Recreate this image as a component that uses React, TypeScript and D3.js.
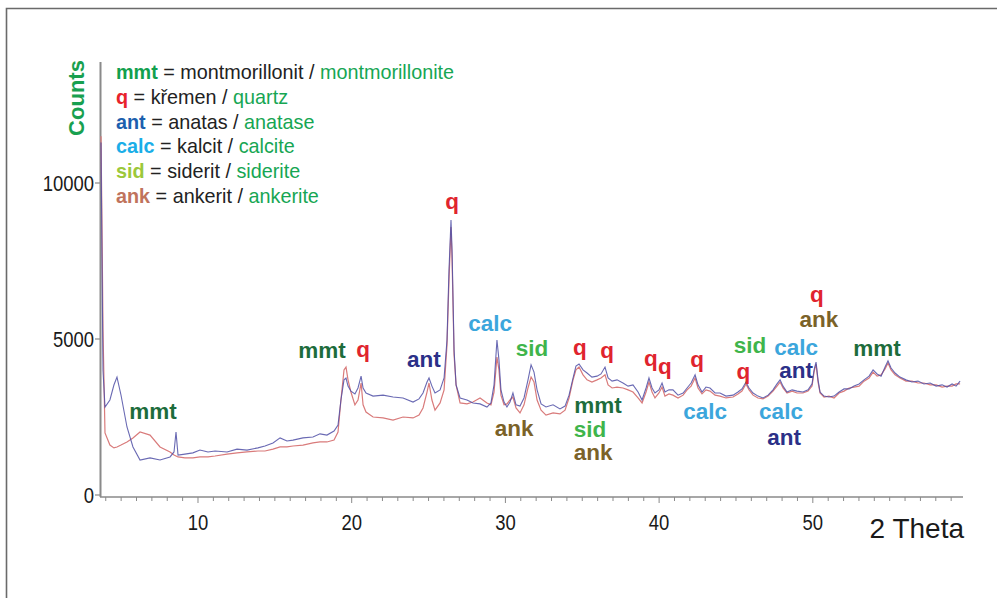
import React from "react";
import * as d3 from "d3";

// 2 Theta positions (degrees) shared by both scans
const twoTheta = [
  3.69, 3.75, 3.82, 3.95, 4.27, 4.53, 4.73, 4.99, 5.38, 5.77,
  6.23, 6.88, 7.53, 8.18, 8.44, 8.57, 8.7, 9.15, 9.67, 10.13,
  10.65, 11.11, 11.89, 12.54, 13.19, 13.9, 14.36, 14.88, 15.34, 15.79,
  16.18, 16.83, 17.48, 17.94, 18.39, 18.85, 19.11, 19.3, 19.5, 19.63,
  19.76, 19.95, 20.21, 20.41, 20.61, 20.74, 20.93, 21.39, 22.04, 22.69,
  23.34, 23.99, 24.38, 24.64, 24.9, 25.03, 25.22, 25.42, 25.75, 26.01,
  26.2, 26.33, 26.46, 26.53, 26.66, 26.79, 27.05, 27.5, 27.89, 28.35,
  28.8, 29.06, 29.26, 29.45, 29.58, 29.71, 29.91, 30.1, 30.3, 30.49,
  30.69, 30.95, 31.21, 31.47, 31.67, 31.86, 32.06, 32.32, 32.64, 33.1,
  33.55, 33.88, 34.14, 34.4, 34.59, 34.79, 35.05, 35.31, 35.63, 35.96,
  36.22, 36.48, 36.68, 36.94, 37.26, 37.65, 37.98, 38.3, 38.63, 38.89,
  39.15, 39.34, 39.54, 39.73, 39.99, 40.19, 40.38, 40.64, 40.9, 41.23,
  41.56, 41.82, 42.08, 42.34, 42.53, 42.79, 43.05, 43.31, 43.64, 43.96,
  44.35, 44.81, 45.13, 45.39, 45.65, 45.85, 46.11, 46.43, 46.76, 47.09,
  47.41, 47.67, 47.87, 48.06, 48.32, 48.65, 48.97, 49.36, 49.69, 49.95,
  50.08, 50.21, 50.34, 50.47, 50.73, 51.05, 51.38, 51.71, 52.03, 52.36,
  52.68, 53.01, 53.33, 53.66, 53.92, 54.18, 54.44, 54.7, 54.89, 55.09,
  55.35, 55.67, 56.06, 56.45, 56.84, 57.23, 57.63, 58.02, 58.41, 58.73,
  59.06, 59.32, 59.58,
];

// blue scan counts
const blueCounts = [
  11300, 7850, 4000, 2820, 3045, 3525, 3780, 3205, 2180, 1540,
  1120, 1190, 1120, 1220, 1380, 2020, 1280, 1310, 1350, 1440,
  1380, 1410, 1380, 1470, 1440, 1510, 1570, 1670, 1830, 1730,
  1760, 1830, 1860, 1960, 1920, 2050, 2240, 3045, 3690, 3750,
  3490, 3330, 3240, 3430, 3810, 3430, 3270, 3170, 3200, 3140,
  3110, 2980, 3080, 3270, 3620, 3750, 3490, 3270, 3370, 3750,
  4970, 7210, 8810, 7850, 4650, 3530, 3110, 3045, 2950, 2920,
  2820, 2950, 3530, 4970, 4330, 3370, 2980, 2820, 2980, 3270,
  2890, 2850, 3110, 3690, 4170, 3940, 3370, 2920, 2820, 2890,
  2760, 2850, 3200, 3750, 4130, 4200, 4010, 3910, 3780, 3810,
  3880, 4100, 3750, 3650, 3690, 3590, 3490, 3530, 3300, 3045,
  3430, 3750, 3430, 3270, 3370, 3590, 3300, 3370, 3370, 3200,
  3270, 3430, 3590, 3850, 3530, 3300, 3460, 3430, 3270, 3270,
  3170, 3200, 3300, 3400, 3620, 3430, 3270, 3170, 3110, 3200,
  3370, 3560, 3690, 3490, 3300, 3370, 3330, 3300, 3370, 3560,
  4010, 4260, 3690, 3300, 3170, 3140, 3170, 3300, 3400, 3400,
  3490, 3560, 3690, 3810, 4010, 3880, 3810, 4100, 4300, 4070,
  3910, 3780, 3690, 3620, 3650, 3560, 3590, 3490, 3530, 3460,
  3560, 3490, 3650,
];

// red scan counts
const redCounts = [
  11500, 8810, 5290, 1990, 1600, 1510, 1540, 1600, 1700, 1830,
  2020, 1920, 1540, 1380, 1280, 1250, 1220, 1190, 1190, 1220,
  1220, 1250, 1310, 1350, 1380, 1410, 1410, 1470, 1540, 1540,
  1570, 1600, 1670, 1700, 1700, 1760, 2020, 3045, 4010, 4100,
  3690, 3300, 2890, 3045, 3590, 2890, 2660, 2500, 2470, 2400,
  2500, 2470, 2560, 2790, 3300, 3590, 3045, 2720, 2950, 3370,
  4810, 6890, 8590, 7530, 4490, 3530, 2950, 2920, 2980, 3110,
  2950, 2890, 3300, 4420, 4010, 3200, 2890, 2920, 3045, 3140,
  2790, 2630, 2890, 3430, 3780, 3620, 3045, 2720, 2560, 2630,
  2600, 2720, 3110, 3690, 4010, 4100, 3850, 3690, 3620, 3690,
  3750, 3850, 3530, 3430, 3460, 3430, 3370, 3300, 3110, 2950,
  3300, 3620, 3300, 3110, 3270, 3460, 3170, 3240, 3200, 3110,
  3200, 3370, 3490, 3750, 3430, 3240, 3370, 3330, 3200, 3170,
  3110, 3140, 3240, 3330, 3560, 3370, 3200, 3110, 3080, 3170,
  3330, 3490, 3620, 3430, 3270, 3330, 3270, 3270, 3330, 3490,
  3940, 4200, 3620, 3270, 3140, 3170, 3110, 3270, 3330, 3430,
  3460, 3490, 3650, 3750, 3940, 3810, 3850, 4040, 4230, 4010,
  3850, 3750, 3650, 3650, 3590, 3590, 3530, 3530, 3460, 3490,
  3490, 3560, 3560,
];

const xTicks = [10, 20, 30, 40, 50];
const yTicks = [0, 5000, 10000];

// legend rows
const legendAbbr = ["mmt", "q", "ant", "calc", "sid", "ank"];
const legendCzech = ["montmorillonit", "křemen", "anatas", "kalcit", "siderit", "ankerit"];
const legendEnglish = ["montmorillonite", "quartz", "anatase", "calcite", "siderite", "ankerite"];

// peak annotations: [text, 2 Theta, counts at baseline]
const peakLabels: [string, number, number][] = [
  ["mmt", 7.07, 2440],
  ["mmt", 18.07, 4390],
  ["q", 20.74, 4420],
  ["ant", 24.7, 4100],
  ["q", 26.53, 9170],
  ["calc", 29.0, 5260],
  ["sid", 31.73, 4450],
  ["ank", 30.56, 1890],
  ["q", 34.85, 4490],
  ["q", 36.61, 4390],
  ["mmt", 36.02, 2630],
  ["sid", 35.5, 1860],
  ["ank", 35.7, 1120],
  ["q", 39.47, 4130],
  ["q", 40.38, 3880],
  ["q", 42.47, 4100],
  ["q", 45.48, 3720],
  ["sid", 45.91, 4560],
  ["calc", 48.91, 4500],
  ["ant", 48.91, 3760],
  ["q", 50.27, 6190],
  ["ank", 50.4, 5380],
  ["mmt", 54.18, 4450],
  ["calc", 42.99, 2430],
  ["calc", 47.93, 2430],
  ["ant", 48.13, 1600],
];

const legendColor: Record<string, string> = {
  mmt: "#12a04e", q: "#e8232b", ant: "#1d5fae", calc: "#1aaee8", sid: "#9cc83b", ank: "#c0735c",
};
const peakColor: Record<string, string> = {
  mmt: "#1d6c3c", q: "#e0242e", ant: "#2b3088", calc: "#3ca6dc", sid: "#3fb54b", ank: "#7b6228",
};

const SANS = "'Liberation Sans', Arial, sans-serif";

const App = () => {
  const width = 997, height = 598;
  const x = d3.scaleLinear().domain([3.69, 59.77]).range([101, 963]);
  const y = d3.scaleLinear().domain([0, 10000]).range([495, 183]);

  const idx = d3.range(twoTheta.length);
  const blueLine = d3.line<number>().x(i => x(twoTheta[i])).y(i => y(blueCounts[i]));
  const redLine = d3.line<number>().x(i => x(twoTheta[i])).y(i => y(redCounts[i]));

  const minor = d3.range(4, 60);
  const axisY = y(0) + 2;

  return (
    <svg width={width} height={height} style={{ position: "absolute", left: 0, top: 0, background: "#fff" }}>
      {/* frame */}
      <path d={`M6.5,${height} V8.5 H${width}`} fill="none" stroke="#6a6a6a" strokeWidth={1.6} />

      {/* y axis */}
      <line x1={100.5} x2={100.5} y1={62} y2={axisY} stroke="#8a8a8a" strokeWidth={2} />
      {yTicks.map(t => (
        <g key={t}>
          <line x1={95} x2={100} y1={y(t)} y2={y(t)} stroke="#8a8a8a" strokeWidth={1.2} />
          <text transform={`translate(94,${y(t) + 8}) scale(0.84,1)`} textAnchor="end" fontFamily={SANS} fontSize={22} fill="#1a1a1a">{t}</text>
        </g>
      ))}
      <text transform={`translate(84,98) rotate(-90)`} textAnchor="middle" fontFamily={SANS} fontWeight="bold" fontSize={22} fill="#18a04f">Counts</text>

      {/* x axis */}
      <line x1={100} x2={963} y1={axisY} y2={axisY} stroke="#8a8a8a" strokeWidth={1.6} />
      {minor.map(t => (
        <line key={t} x1={x(t)} x2={x(t)} y1={axisY} y2={axisY + (t % 10 === 0 ? 6 : 4)} stroke="#8a8a8a" strokeWidth={1} />
      ))}
      {xTicks.map(t => (
        <text key={t} transform={`translate(${x(t)},530) scale(0.84,1)`} textAnchor="middle" fontFamily={SANS} fontSize={22} fill="#1a1a1a">{t}</text>
      ))}
      <text x={964} y={538} textAnchor="end" fontFamily={SANS} fontSize={28} fill="#1a1a1a">2 Theta</text>

      {/* scans */}
      <path d={redLine(idx) || ""} fill="none" stroke="#d97b7b" strokeWidth={1.2} />
      <path d={blueLine(idx) || ""} fill="none" stroke="#4f4fa6" strokeWidth={1.1} strokeOpacity={0.85} />

      {/* legend */}
      {legendAbbr.map((a, i) => (
        <text key={a} x={116} y={79 + i * 24.8} fontFamily={SANS} fontSize={19.8}>
          <tspan fontWeight="bold" fill={legendColor[a]}>{a}</tspan>
          <tspan fill="#222">{` = ${legendCzech[i]} / `}</tspan>
          <tspan fill="#16a653">{legendEnglish[i]}</tspan>
        </text>
      ))}

      {/* peak labels */}
      {peakLabels.map(([t, th, c], i) => (
        <text key={i} x={x(th)} y={y(c)} textAnchor="middle" fontFamily={SANS} fontWeight="bold" fontSize={22.5} fill={peakColor[t]}>{t}</text>
      ))}
    </svg>
  );
};

export default App;
